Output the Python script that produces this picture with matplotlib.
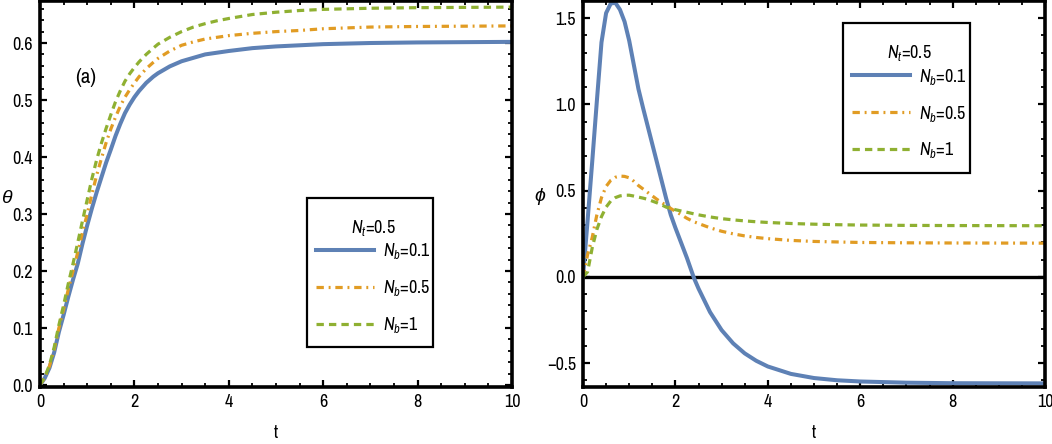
import matplotlib
matplotlib.use("Agg")
import matplotlib.pyplot as plt
from matplotlib import font_manager as fm
from matplotlib.patches import Rectangle
from matplotlib.ticker import MultipleLocator

# pick an Arial-Narrow-like font if one is installed
names = {f.name for f in fm.fontManager.ttflist}
FAM = 'Archivo Narrow' if 'Archivo Narrow' in names else 'Liberation Sans'
plt.rcParams['font.family'] = [FAM, 'Liberation Sans', 'DejaVu Sans']
plt.rcParams['mathtext.fontset'] = 'custom'
plt.rcParams['mathtext.rm'] = FAM
plt.rcParams['mathtext.it'] = FAM + ':italic'

# ---- data ----
t = [0, 0.1, 0.2, 0.3, 0.4, 0.5, 0.6, 0.7, 0.8, 0.9, 1.0, 1.1, 1.2, 1.3, 1.4, 1.5,
     1.6, 1.7, 1.8, 1.9, 2.0, 2.1, 2.25, 2.4, 2.5, 2.75, 3.0, 3.25, 3.5, 3.75,
     4.0, 4.5, 5, 5.5, 6, 7, 8, 10]

theta_nb01 = [0, 0.012, 0.03, 0.057, 0.093, 0.123, 0.155, 0.185, 0.213, 0.248, 0.280,
              0.31, 0.338, 0.364, 0.39, 0.413, 0.437, 0.458, 0.477, 0.492, 0.505,
              0.516, 0.530, 0.541, 0.547, 0.559, 0.568, 0.574, 0.580, 0.583,
              0.586, 0.591, 0.594, 0.596, 0.598, 0.600, 0.601, 0.602]
theta_nb05 = [0, 0.013, 0.033, 0.062, 0.1, 0.133, 0.168, 0.2, 0.233, 0.268, 0.3,
              0.335, 0.368, 0.397, 0.425, 0.449, 0.47, 0.489, 0.505, 0.518, 0.53,
              0.541, 0.555, 0.566, 0.573, 0.586, 0.596, 0.602, 0.607, 0.610,
              0.613, 0.617, 0.62, 0.622, 0.625, 0.628, 0.629, 0.63]
theta_nb1 = [0, 0.014, 0.035, 0.066, 0.105, 0.14, 0.178, 0.213, 0.25, 0.288, 0.325,
             0.362, 0.395, 0.424, 0.45, 0.474, 0.497, 0.516, 0.533, 0.546, 0.557,
             0.567, 0.58, 0.591, 0.598, 0.61, 0.62, 0.628, 0.634, 0.639,
             0.643, 0.65, 0.654, 0.657, 0.659, 0.661, 0.662, 0.663]

phi_nb01 = [0, 0.33, 0.67, 1.02, 1.36, 1.53, 1.585, 1.59, 1.55, 1.48, 1.37,
            1.23, 1.09, 0.98, 0.875, 0.77, 0.665, 0.56, 0.455, 0.36, 0.285,
            0.215, 0.11, -0.005, -0.067, -0.204, -0.308, -0.385, -0.443, -0.486,
            -0.519, -0.562, -0.586, -0.599, -0.606, -0.613, -0.616, -0.617]
phi_nb05 = [0, 0.13, 0.23, 0.36, 0.46, 0.525, 0.56, 0.578, 0.585, 0.583, 0.575,
            0.555, 0.53, 0.51, 0.49, 0.47, 0.45, 0.432, 0.415, 0.397, 0.38,
            0.365, 0.34, 0.32, 0.31, 0.285, 0.265, 0.25, 0.238, 0.229,
            0.222, 0.212, 0.206, 0.203, 0.2, 0.198, 0.197, 0.196]
phi_nb1 = [0, 0.03, 0.17, 0.275, 0.35, 0.405, 0.44, 0.46, 0.47, 0.474, 0.474,
           0.469, 0.463, 0.457, 0.45, 0.44, 0.43, 0.418, 0.405, 0.397, 0.39,
           0.384, 0.375, 0.366, 0.36, 0.348, 0.338, 0.331, 0.325, 0.32,
           0.316, 0.31, 0.306, 0.303, 0.301, 0.299, 0.298, 0.297]

labels = [r'$N_b$=0.1', r'$N_b$=0.5', r'$N_b$=1']
legend_title = r'$N_t$=0.5'
colors = ['#5E81B5', '#E19C24', '#8FB032']

fig = plt.figure(figsize=(10.52, 4.44), dpi=100)
axL = fig.add_axes([40/1052, 1-387/444, 472/1052, 386/444])
axR = fig.add_axes([583/1052, 1-387/444, 462/1052, 386/444])


def style(ax, xmaj, xmin, ymaj, ymin):
    ax.xaxis.set_major_locator(MultipleLocator(xmaj))
    ax.xaxis.set_minor_locator(MultipleLocator(xmin))
    ax.yaxis.set_major_locator(MultipleLocator(ymaj))
    ax.yaxis.set_minor_locator(MultipleLocator(ymin))
    ax.tick_params(which='both', direction='in', top=True, right=True,
                   labelsize=13, pad=5)
    ax.tick_params(which='major', length=5, width=1.6)
    ax.tick_params(which='minor', length=2.6, width=1.3)
    for s in ax.spines.values():
        s.set_linewidth(2.6)
        s.set_color('black')


def draw(ax, ys):
    ax.plot(t, ys[0], color=colors[0], lw=2.9, label=labels[0])
    ax.plot(t, ys[1], color=colors[1], lw=2.3, dashes=(2.3, 1.5, 0.6, 1.5), label=labels[1])
    ax.plot(t, ys[2], color=colors[2], lw=2.3, dashes=(2.3, 1.6), label=labels[2])


def legend(ax, anchor, box):
    x0, y0, x1, y1 = box
    ax.add_patch(Rectangle((x0, y0), x1 - x0, y1 - y0, transform=ax.transAxes,
                           facecolor='white', edgecolor='black', lw=1.6, zorder=4))
    leg = ax.legend(loc='upper left', bbox_to_anchor=anchor, title=legend_title,
                    fontsize=13, title_fontsize=13, frameon=False,
                    handlelength=3.2, handletextpad=0.5, labelspacing=0.94,
                    borderpad=0, borderaxespad=0)
    leg.set_zorder(5)
    leg._legend_box.sep = 2.5
    return leg


# left panel
draw(axL, [theta_nb01, theta_nb05, theta_nb1])
axL.set_xlim(0, 10)
axL.set_ylim(-0.0035, 0.6737)
style(axL, 2, 0.5, 0.1, 0.02)
axL.yaxis.set_major_formatter(plt.FuncFormatter(lambda v, p: f'{v:.1f}'))
axL.set_xlabel('t', fontsize=13, va='center')
axL.xaxis.set_label_coords(0.5, -0.118)
axL.set_ylabel('θ', fontsize=14, style='italic', rotation=0, va='center', ha='center')
axL.yaxis.set_label_coords(-0.072, 0.49)
axL.text(0.96, 0.54, '(a)', fontsize=15, ha='center', va='center')
legend(axL, (0.5856, 0.4378), (0.5657, 0.1036, 0.8326, 0.4896))

# right panel
draw(axR, [phi_nb01, phi_nb05, phi_nb1])
axR.axhline(0, color='black', lw=2.4, zorder=1.5)
axR.set_xlim(0, 10)
axR.set_ylim(-0.638, 1.6)
style(axR, 2, 0.5, 0.5, 0.1)
axR.yaxis.set_major_formatter(plt.FuncFormatter(lambda v, p: f'{v:.1f}'.replace('-', '\u2212')))
axR.set_xlabel('t', fontsize=13, va='center')
axR.xaxis.set_label_coords(0.5, -0.118)
axR.set_ylabel('ϕ', fontsize=14, style='italic', rotation=0, va='center', ha='center')
axR.yaxis.set_label_coords(-0.093, 0.497)
legend(axR, (0.583, 0.891), (0.5628, 0.554, 0.8377, 0.943))

fig.savefig('out.png', dpi=100)
